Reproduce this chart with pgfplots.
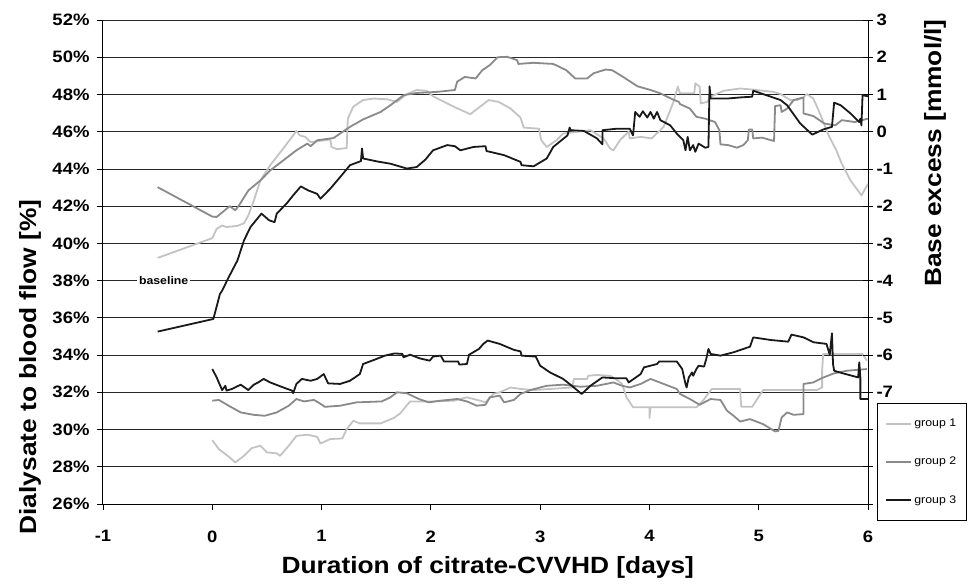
\documentclass[border=0pt]{standalone}
\usepackage{fontspec}
\setmainfont{Liberation Sans}[FakeStretch=1.12]
\usepackage{pgfplots}
\pgfplotsset{compat=1.18}
\definecolor{gone}{RGB}{195,195,195}
\definecolor{gtwo}{RGB}{138,138,138}
\definecolor{gthree}{RGB}{25,25,25}
\definecolor{gridc}{RGB}{40,40,40}

\begin{document}
\begin{tikzpicture}
\pgfplotsset{
  every axis/.append style={
    scale only axis, width=765bp, height=484bp,
    xmin=-1, xmax=6,
    ticklabel style={font=\bfseries\fontsize{16.5bp}{16.5bp}\selectfont},
    label style={font=\bfseries\fontsize{23.5bp}{23.5bp}\selectfont},
    axis line style={black, line width=1bp, -},
    tick style={black, line width=0.8bp},
  },
  grp/.style={line width=1.8bp, line join=round},
}
% left axis: dialysate to blood flow
\begin{axis}[
  name=ax,
  axis x line*=bottom, axis y line*=left,
  ymin=26, ymax=52, ytick={26,28,...,52},
  yticklabel={\pgfmathprintnumber[assume math mode=true]{\tick}\%},
  yticklabel style={xshift=-4bp},
  xtick={-1,...,6}, xticklabels={-1,0,1,2,3,4,5,6},
  xticklabel style={yshift=-17bp},
  tick align=outside, major tick length=6bp,
  ymajorgrids, grid style={gridc, line width=0.8bp},
  xlabel={Duration of citrate-CVVHD [days]},
  ylabel={Dialysate to blood flow [\%]},
  xlabel style={at={(axis description cs:0.503,-0.132)}, anchor=center},
  ylabel style={at={(axis description cs:-0.0954,0.283)}, anchor=center},
  legend style={at={(1.012,0.209)}, anchor=north west, draw=black, line width=0.8bp,
    font=\fontsize{11bp}{11bp}\selectfont, row sep=25bp, inner xsep=8bp, inner ysep=14bp},
  legend cell align=left,
  legend image code/.code={\draw[#1] (0bp,0bp) -- (25bp,0bp);},
]
\addplot[grp, gone] coordinates {
(0.00,29.43) (0.06,28.95) (0.16,28.50) (0.21,28.23) (0.29,28.59) (0.36,29.00) (0.44,29.13)
(0.50,28.77) (0.59,28.72) (0.62,28.59) (0.70,29.13) (0.77,29.66) (0.87,29.72) (0.96,29.61)
(0.99,29.25) (1.08,29.49) (1.19,29.52) (1.23,30.02) (1.29,30.47) (1.35,30.33) (1.54,30.33)
(1.66,30.62) (1.72,30.87) (1.81,31.51) (2.02,31.51) (2.21,31.55) (2.33,31.73) (2.45,31.55)
(2.50,31.46) (2.57,31.91) (2.63,32.00) (2.73,32.26) (2.82,32.18) (2.94,32.12) (3.09,32.18)
(3.29,32.26) (3.31,32.72) (3.43,32.72) (3.44,32.89) (3.52,32.93) (3.64,32.89) (3.69,32.72)
(3.75,32.45) (3.79,31.73) (3.85,31.20) (4.00,31.20) (4.00,30.62) (4.01,31.20) (4.43,31.20)
(4.49,31.55) (4.57,32.18) (4.83,32.18) (4.84,31.22) (4.94,31.22) (5.04,32.12) (5.53,32.12)
(5.58,32.26) (5.58,33.16) (5.59,34.06) (5.95,34.06) (5.99,33.70)
};
\addlegendentry{group 1}
\addplot[grp, gtwo] coordinates {
(0.00,31.55) (0.06,31.59) (0.15,31.28) (0.26,30.92) (0.38,30.79) (0.48,30.74) (0.59,30.92)
(0.70,31.28) (0.77,31.64) (0.84,31.51) (0.93,31.59) (0.97,31.46) (1.03,31.22) (1.17,31.28)
(1.32,31.46) (1.55,31.51) (1.63,31.73) (1.69,32.00) (1.78,31.95) (1.89,31.64) (1.98,31.46)
(2.09,31.55) (2.24,31.64) (2.33,31.51) (2.42,31.28) (2.50,31.33) (2.54,31.73) (2.63,31.82)
(2.67,31.46) (2.76,31.59) (2.82,31.91) (2.91,32.12) (3.06,32.35) (3.21,32.41) (3.37,32.30)
(3.52,32.35) (3.67,32.53) (3.75,32.35) (3.82,32.26) (3.92,32.45) (4.01,32.72) (4.13,32.45)
(4.25,32.18) (4.28,31.91) (4.37,31.64) (4.46,31.33) (4.56,31.64) (4.65,31.59) (4.71,31.01)
(4.77,30.74) (4.83,30.43) (4.92,30.56) (5.04,30.29) (5.15,29.90) (5.18,29.93) (5.21,30.65)
(5.26,30.92) (5.32,30.79) (5.41,30.83) (5.41,32.45) (5.50,32.53) (5.58,32.77) (5.69,33.02)
(5.81,33.16) (5.99,33.25)
};
\addlegendentry{group 2}
\addplot[grp, gthree] coordinates {
(0.00,33.25) (0.04,32.80) (0.09,32.12) (0.12,32.35) (0.13,32.09) (0.18,32.18) (0.26,32.41)
(0.33,32.12) (0.38,32.41) (0.42,32.53) (0.47,32.72) (0.53,32.53) (0.65,32.26) (0.73,32.09)
(0.74,31.95) (0.77,32.45) (0.82,32.72) (0.90,32.62) (0.96,32.72) (1.02,32.98) (1.06,32.48)
(1.17,32.45) (1.26,32.62) (1.35,32.98) (1.38,33.52) (1.48,33.74) (1.58,33.97) (1.67,34.09)
(1.74,34.06) (1.75,33.88) (1.81,34.02) (1.90,33.82) (1.99,33.70) (2.02,33.92) (2.09,33.97)
(2.12,33.66) (2.25,33.66) (2.26,33.49) (2.33,33.52) (2.35,34.02) (2.44,34.33) (2.48,34.60)
(2.52,34.78) (2.63,34.60) (2.76,34.28) (2.82,34.20) (2.83,33.97) (2.96,33.92) (3.00,33.43)
(3.09,33.07) (3.21,32.72) (3.29,32.35) (3.38,31.91) (3.46,32.35) (3.57,32.80) (3.70,32.75)
(3.79,32.75) (3.81,32.53) (3.92,32.98) (3.95,33.34) (4.07,33.52) (4.09,33.66) (4.25,33.66)
(4.30,33.25) (4.33,32.45) (4.34,32.26) (4.36,32.80) (4.39,33.07) (4.40,32.89) (4.43,33.25)
(4.45,33.43) (4.50,33.38) (4.52,33.79) (4.54,34.33) (4.56,34.06) (4.65,33.97) (4.77,34.15)
(4.92,34.45) (4.95,34.95) (5.11,34.81) (5.27,34.72) (5.30,35.10) (5.41,34.95) (5.50,34.69)
(5.62,34.60) (5.65,34.02) (5.67,35.17) (5.68,33.52) (5.69,33.16) (5.77,33.02) (5.91,32.80)
(5.92,33.61) (5.93,32.80) (5.93,31.64) (6.00,31.64)
};
\addlegendentry{group 3}
\node[fill=white, inner sep=2bp, font=\bfseries\fontsize{11bp}{11bp}\selectfont] at (axis cs:-0.445,38) {baseline};
\end{axis}
% right axis: base excess
\begin{axis}[
  axis x line=none, axis y line*=right,
  ymin=-10, ymax=3, ytick={-10,...,3},
  yticklabels={,,,-7,-6,-5,-4,-3,-2,-1,0,1,2,3},
  tick align=center, major tick length=10bp,
  ylabel={Base excess [mmol/l]},
  ylabel style={at={(axis description cs:1.0876,0.725)}, anchor=center},
]
\addplot[grp, gone] coordinates {
(-0.50,-3.39) (0.00,-2.86) (0.04,-2.61) (0.09,-2.52) (0.13,-2.56) (0.23,-2.53) (0.29,-2.46)
(0.33,-2.25) (0.38,-1.85) (0.44,-1.31) (0.53,-0.90) (0.65,-0.45) (0.77,0.02) (0.80,-0.10)
(0.85,-0.14) (0.90,-0.28) (1.08,-0.21) (1.09,-0.41) (1.14,-0.47) (1.23,-0.44) (1.24,0.35)
(1.29,0.67) (1.38,0.85) (1.48,0.89) (1.60,0.87) (1.69,0.80) (1.78,1.01) (1.87,1.12)
(1.96,1.10) (2.02,0.95) (2.21,0.67) (2.36,0.47) (2.53,0.85) (2.62,0.80) (2.73,0.62)
(2.82,0.38) (2.85,0.11) (2.99,0.08) (3.01,-0.23) (3.06,-0.41) (3.15,-0.23) (3.21,-0.05)
(3.46,0.04) (3.58,-0.18) (3.64,-0.45) (3.67,-0.50) (3.73,-0.23) (3.81,0.00) (3.82,-0.18)
(3.92,-0.14) (4.02,-0.18) (4.13,0.13) (4.22,0.80) (4.26,1.21) (4.28,1.03) (4.41,1.03)
(4.42,1.30) (4.46,1.21) (4.47,0.76) (4.53,0.80) (4.56,0.94) (4.68,1.10) (4.83,1.16)
(4.95,1.13) (5.13,1.07) (5.20,1.01) (5.29,0.85) (5.35,0.85) (5.41,0.92) (5.44,1.01)
(5.50,0.89) (5.56,0.49) (5.64,-0.10) (5.71,-0.50) (5.76,-0.86) (5.84,-1.31) (5.94,-1.71)
(6.00,-1.40)
};
\addplot[grp, gtwo] coordinates {
(-0.50,-1.49) (0.00,-2.28) (0.04,-2.29) (0.16,-2.00) (0.21,-2.11) (0.24,-2.00) (0.33,-1.58)
(0.44,-1.31) (0.53,-1.04) (0.65,-0.77) (0.77,-0.50) (0.87,-0.32) (0.90,-0.39) (0.96,-0.23)
(1.11,-0.17) (1.17,-0.05) (1.26,0.13) (1.38,0.33) (1.54,0.53) (1.63,0.71) (1.75,0.98)
(1.87,1.04) (2.06,1.07) (2.22,1.12) (2.24,1.34) (2.31,1.47) (2.41,1.43) (2.47,1.65)
(2.54,1.79) (2.61,2.00) (2.70,2.01) (2.79,1.92) (2.80,1.82) (2.94,1.85) (3.12,1.82)
(3.24,1.65) (3.32,1.43) (3.43,1.43) (3.49,1.57) (3.60,1.67) (3.66,1.65) (3.76,1.47)
(3.89,1.22) (4.01,1.12) (4.10,1.03) (4.21,0.87) (4.27,0.80) (4.28,0.74) (4.37,0.62)
(4.43,0.40) (4.51,0.35) (4.60,0.26) (4.64,0.04) (4.65,-0.34) (4.72,-0.36) (4.80,-0.43)
(4.86,-0.36) (4.90,-0.23) (4.91,0.06) (4.94,0.06) (4.95,-0.18) (5.03,-0.16) (5.14,-0.25)
(5.15,0.69) (5.20,0.71) (5.21,0.53) (5.26,0.62) (5.32,0.85) (5.41,0.92) (5.41,0.49)
(5.50,0.42) (5.60,0.22) (5.70,0.17) (5.76,0.31) (5.88,0.26) (6.00,0.35)
};
\addplot[grp, gthree] coordinates {
(-0.50,-5.37) (0.01,-5.03) (0.07,-4.36) (0.09,-4.27) (0.15,-3.91) (0.23,-3.46) (0.29,-2.92)
(0.35,-2.56) (0.45,-2.20) (0.52,-2.38) (0.57,-2.43) (0.59,-2.20) (0.68,-1.93) (0.74,-1.71)
(0.81,-1.47) (0.88,-1.58) (0.96,-1.67) (0.99,-1.80) (1.08,-1.53) (1.17,-1.22) (1.26,-0.90)
(1.36,-0.79) (1.37,-0.45) (1.38,-0.72) (1.51,-0.80) (1.63,-0.86) (1.78,-0.99) (1.87,-0.95)
(1.95,-0.75) (2.02,-0.50) (2.15,-0.36) (2.22,-0.39) (2.27,-0.50) (2.39,-0.41) (2.50,-0.39)
(2.51,-0.52) (2.67,-0.63) (2.82,-0.81) (2.83,-0.90) (2.94,-0.93) (3.06,-0.72) (3.12,-0.41)
(3.25,-0.10) (3.27,0.11) (3.28,0.04) (3.40,0.02) (3.52,-0.18) (3.57,-0.34) (3.57,0.04)
(3.70,0.08) (3.82,0.08) (3.85,-0.10) (3.87,0.53) (3.91,0.40) (3.94,0.55) (3.98,0.38)
(4.01,0.53) (4.04,0.35) (4.07,0.53) (4.10,0.31) (4.19,0.17) (4.25,-0.05) (4.31,-0.23)
(4.33,-0.50) (4.35,-0.14) (4.37,-0.50) (4.40,-0.36) (4.42,-0.54) (4.45,-0.32) (4.51,-0.43)
(4.54,-0.41) (4.55,1.22) (4.56,0.89) (4.71,0.89) (4.83,0.92) (4.94,0.94) (4.95,1.10)
(5.07,0.98) (5.20,0.85) (5.26,0.71) (5.38,0.22) (5.49,-0.08) (5.59,0.06) (5.67,0.13)
(5.69,0.78) (5.75,0.71) (5.84,0.49) (5.92,0.26) (5.93,0.35) (5.94,0.17) (5.95,0.98)
(6.00,0.95)
};
\end{axis}
\pgfresetboundingbox
\path[use as bounding box] ([shift={(-103bp,-84bp)}]ax.south west) rectangle ++(968bp,588bp);
\end{tikzpicture}
\end{document}
